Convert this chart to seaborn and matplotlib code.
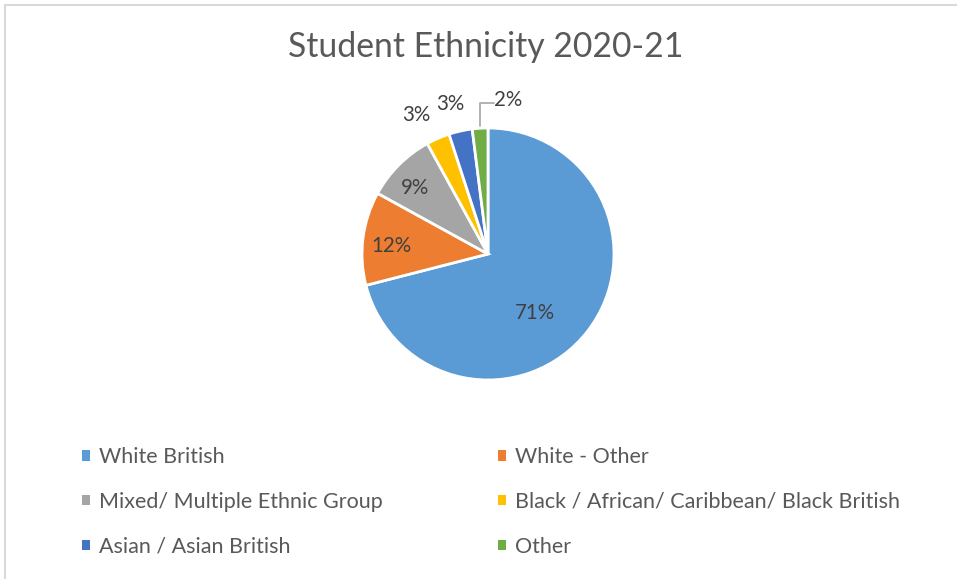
import numpy as np
import matplotlib.pyplot as plt
import seaborn as sns
from matplotlib.patches import Patch
from matplotlib.lines import Line2D

sns.set_theme(style="white")
plt.rcParams['font.family'] = ['Lato', 'DejaVu Sans']

categories = ['White British', 'White - Other', 'Mixed/ Multiple Ethnic Group',
              'Black / African/ Caribbean/ Black British', 'Asian / Asian British', 'Other']
shares = [71, 12, 9, 3, 3, 2]
colors = ['#5B9BD5', '#ED7D31', '#A5A5A5', '#FFC000', '#4472C4', '#70AD47']
# label radius (fraction of pie radius) and angle nudge, Excel "best fit"-like
label_r = [0.60, 0.77, 0.78, 1.24, 1.23, 1.23]
label_da = [-14, 2.5, 3, 4, 1.5, -11]

W, H = 957, 579
fig = plt.figure(figsize=(W / 100, H / 100), dpi=100)

# chart border (left + top visible)
fig.add_artist(Line2D([5 / W, 5 / W], [0, 1 - 5 / H], color='#D9D9D9', lw=1.5))
fig.add_artist(Line2D([5 / W, 1], [1 - 5 / H, 1 - 5 / H], color='#D9D9D9', lw=1.5))

fig.text(486 / W, 1 - 47 / H, 'Student Ethnicity 2020-21', ha='center', va='center',
         fontsize=24.3, color='#595959')

R = 126
cx, cy = 488, 254
ax = fig.add_axes([(cx - R) / W, 1 - (cy + R) / H, 2 * R / W, 2 * R / H])
wedges, _ = ax.pie(shares, colors=colors, startangle=90, counterclock=False,
                   wedgeprops=dict(edgecolor='white', linewidth=2))
ax.set_aspect('equal')
ax.set_xlim(-1, 1)
ax.set_ylim(-1, 1)
ax.axis('off')

for w, v, r, da in zip(wedges, shares, label_r, label_da):
    mid = np.deg2rad((w.theta1 + w.theta2) / 2 + da)
    x, y = r * np.cos(mid), r * np.sin(mid)
    ax.text(x, y, f'{v}%', ha='center', va='center', fontsize=14.8, color='#404040',
            clip_on=False)

# leader line for the smallest slice
last = wedges[-1]
m = np.deg2rad((last.theta1 + last.theta2) / 2)
x0, y0 = 1.0 * np.cos(m), 1.0 * np.sin(m)
ax.plot([x0, x0, x0 + 0.11], [y0 + 0.02, y0 + 0.2, y0 + 0.2], color='#A6A6A6', lw=1.2,
        clip_on=False)

handles = [Patch(facecolor=c, edgecolor='none') for c in colors]
col1 = [0, 2, 4]
col2 = [1, 3, 5]
for idx, xpos in [(col1, 82), (col2, 498)]:
    fig.legend([handles[i] for i in idx], [categories[i] for i in idx],
               loc='upper left', bbox_to_anchor=(xpos / W, 1 - 447 / H),
               frameon=False, fontsize=15.5, labelcolor='#595959',
               handlelength=0.37, handleheight=0.37, handletextpad=0.42,
               labelspacing=1.15, borderpad=0, borderaxespad=0)

fig.savefig('out.png', dpi=100)
